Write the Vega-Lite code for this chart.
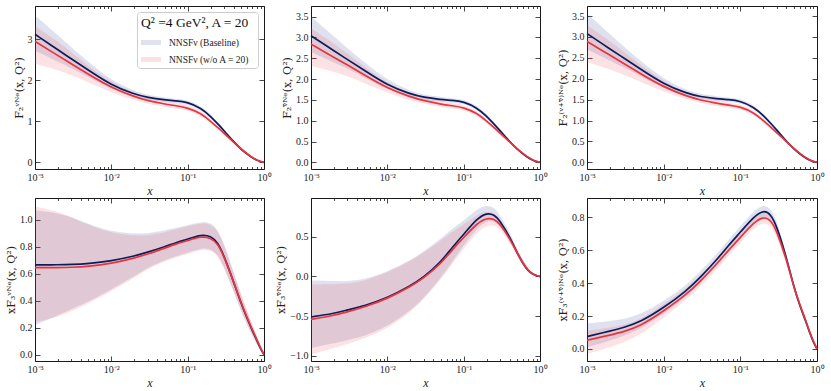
{
"$schema": "https://vega.github.io/schema/vega-lite/v6.json",
"padding": {"left": 5, "top": 5, "right": 0, "bottom": 0},
"background": "white",
"columns": 3,
"spacing": {"row": 29, "column": 47},
"bounds": "flush",
"resolve": {"scale": {"fill": "independent"}, "legend": {"fill": "independent"}},
"config": {
  "view": {"stroke": "#1a1a1a", "strokeWidth": 1},
  "axis": {"domain": false, "grid": false, "ticks": true, "tickColor": "#1a1a1a", "tickWidth": 0.8, "labelFont": "Liberation Serif", "labelFontSize": 10, "labelColor": "#222222", "titleFont": "DejaVu Serif", "titleFontSize": 11, "titleFontWeight": "normal", "titleColor": "#222222", "titlePadding": 3},
  "legend": {"labelFont": "Liberation Serif", "titleFont": "Liberation Serif"}
},
"data": {"values": [
{"p":1,"s":"b","x":0.001,"y":3.12,"lo":2.72,"hi":3.58},
{"p":1,"s":"b","x":0.002,"y":2.74,"lo":2.45,"hi":3.10},
{"p":1,"s":"b","x":0.003,"y":2.52,"lo":2.30,"hi":2.80},
{"p":1,"s":"b","x":0.005,"y":2.25,"lo":2.08,"hi":2.45},
{"p":1,"s":"b","x":0.01,"y":1.88,"lo":1.78,"hi":2.00},
{"p":1,"s":"b","x":0.02,"y":1.66,"lo":1.59,"hi":1.74},
{"p":1,"s":"b","x":0.03,"y":1.58,"lo":1.52,"hi":1.64},
{"p":1,"s":"b","x":0.05,"y":1.52,"lo":1.47,"hi":1.58},
{"p":1,"s":"b","x":0.07,"y":1.50,"lo":1.45,"hi":1.55},
{"p":1,"s":"b","x":0.1,"y":1.47,"lo":1.42,"hi":1.52},
{"p":1,"s":"b","x":0.15,"y":1.32,"lo":1.27,"hi":1.37},
{"p":1,"s":"b","x":0.2,"y":1.12,"lo":1.07,"hi":1.17},
{"p":1,"s":"b","x":0.25,"y":0.93,"lo":0.89,"hi":0.97},
{"p":1,"s":"b","x":0.3,"y":0.77,"lo":0.73,"hi":0.81},
{"p":1,"s":"b","x":0.4,"y":0.50,"lo":0.47,"hi":0.53},
{"p":1,"s":"b","x":0.5,"y":0.32,"lo":0.30,"hi":0.34},
{"p":1,"s":"b","x":0.6,"y":0.20,"lo":0.185,"hi":0.215},
{"p":1,"s":"b","x":0.7,"y":0.11,"lo":0.10,"hi":0.12},
{"p":1,"s":"b","x":0.8,"y":0.05,"lo":0.045,"hi":0.055},
{"p":1,"s":"b","x":0.9,"y":0.015,"lo":0.012,"hi":0.018},
{"p":1,"s":"b","x":1,"y":0,"lo":0,"hi":0},
{"p":1,"s":"r","x":0.001,"y":2.95,"lo":2.40,"hi":3.32},
{"p":1,"s":"r","x":0.002,"y":2.60,"lo":2.25,"hi":2.95},
{"p":1,"s":"r","x":0.003,"y":2.40,"lo":2.12,"hi":2.68},
{"p":1,"s":"r","x":0.005,"y":2.15,"lo":1.95,"hi":2.35},
{"p":1,"s":"r","x":0.01,"y":1.82,"lo":1.70,"hi":1.95},
{"p":1,"s":"r","x":0.02,"y":1.60,"lo":1.51,"hi":1.69},
{"p":1,"s":"r","x":0.03,"y":1.50,"lo":1.43,"hi":1.58},
{"p":1,"s":"r","x":0.05,"y":1.42,"lo":1.35,"hi":1.50},
{"p":1,"s":"r","x":0.07,"y":1.38,"lo":1.31,"hi":1.45},
{"p":1,"s":"r","x":0.1,"y":1.33,"lo":1.27,"hi":1.40},
{"p":1,"s":"r","x":0.15,"y":1.19,"lo":1.13,"hi":1.25},
{"p":1,"s":"r","x":0.2,"y":1.00,"lo":0.95,"hi":1.05},
{"p":1,"s":"r","x":0.25,"y":0.84,"lo":0.80,"hi":0.88},
{"p":1,"s":"r","x":0.3,"y":0.71,"lo":0.67,"hi":0.75},
{"p":1,"s":"r","x":0.4,"y":0.49,"lo":0.46,"hi":0.52},
{"p":1,"s":"r","x":0.5,"y":0.33,"lo":0.31,"hi":0.35},
{"p":1,"s":"r","x":0.6,"y":0.21,"lo":0.195,"hi":0.225},
{"p":1,"s":"r","x":0.7,"y":0.12,"lo":0.11,"hi":0.13},
{"p":1,"s":"r","x":0.8,"y":0.06,"lo":0.055,"hi":0.065},
{"p":1,"s":"r","x":0.9,"y":0.02,"lo":0.017,"hi":0.023},
{"p":1,"s":"r","x":1,"y":0,"lo":0,"hi":0},
{"p":2,"s":"b","x":0.001,"y":3.04,"lo":2.65,"hi":3.50},
{"p":2,"s":"b","x":0.002,"y":2.68,"lo":2.40,"hi":3.03},
{"p":2,"s":"b","x":0.003,"y":2.47,"lo":2.25,"hi":2.74},
{"p":2,"s":"b","x":0.005,"y":2.21,"lo":2.04,"hi":2.40},
{"p":2,"s":"b","x":0.01,"y":1.85,"lo":1.75,"hi":1.97},
{"p":2,"s":"b","x":0.02,"y":1.64,"lo":1.57,"hi":1.72},
{"p":2,"s":"b","x":0.03,"y":1.56,"lo":1.50,"hi":1.62},
{"p":2,"s":"b","x":0.05,"y":1.51,"lo":1.46,"hi":1.57},
{"p":2,"s":"b","x":0.07,"y":1.49,"lo":1.44,"hi":1.54},
{"p":2,"s":"b","x":0.1,"y":1.46,"lo":1.41,"hi":1.51},
{"p":2,"s":"b","x":0.15,"y":1.31,"lo":1.26,"hi":1.36},
{"p":2,"s":"b","x":0.2,"y":1.11,"lo":1.06,"hi":1.16},
{"p":2,"s":"b","x":0.25,"y":0.92,"lo":0.88,"hi":0.96},
{"p":2,"s":"b","x":0.3,"y":0.76,"lo":0.72,"hi":0.80},
{"p":2,"s":"b","x":0.4,"y":0.50,"lo":0.47,"hi":0.53},
{"p":2,"s":"b","x":0.5,"y":0.32,"lo":0.30,"hi":0.34},
{"p":2,"s":"b","x":0.6,"y":0.20,"lo":0.185,"hi":0.215},
{"p":2,"s":"b","x":0.7,"y":0.11,"lo":0.10,"hi":0.12},
{"p":2,"s":"b","x":0.8,"y":0.05,"lo":0.045,"hi":0.055},
{"p":2,"s":"b","x":0.9,"y":0.015,"lo":0.012,"hi":0.018},
{"p":2,"s":"b","x":1,"y":0,"lo":0,"hi":0},
{"p":2,"s":"r","x":0.001,"y":2.84,"lo":2.32,"hi":3.22},
{"p":2,"s":"r","x":0.002,"y":2.52,"lo":2.18,"hi":2.86},
{"p":2,"s":"r","x":0.003,"y":2.34,"lo":2.07,"hi":2.61},
{"p":2,"s":"r","x":0.005,"y":2.10,"lo":1.91,"hi":2.30},
{"p":2,"s":"r","x":0.01,"y":1.78,"lo":1.67,"hi":1.90},
{"p":2,"s":"r","x":0.02,"y":1.57,"lo":1.49,"hi":1.66},
{"p":2,"s":"r","x":0.03,"y":1.48,"lo":1.41,"hi":1.56},
{"p":2,"s":"r","x":0.05,"y":1.40,"lo":1.33,"hi":1.48},
{"p":2,"s":"r","x":0.07,"y":1.36,"lo":1.29,"hi":1.43},
{"p":2,"s":"r","x":0.1,"y":1.32,"lo":1.26,"hi":1.38},
{"p":2,"s":"r","x":0.15,"y":1.18,"lo":1.12,"hi":1.24},
{"p":2,"s":"r","x":0.2,"y":0.99,"lo":0.94,"hi":1.04},
{"p":2,"s":"r","x":0.25,"y":0.84,"lo":0.80,"hi":0.88},
{"p":2,"s":"r","x":0.3,"y":0.70,"lo":0.66,"hi":0.74},
{"p":2,"s":"r","x":0.4,"y":0.49,"lo":0.46,"hi":0.52},
{"p":2,"s":"r","x":0.5,"y":0.33,"lo":0.31,"hi":0.35},
{"p":2,"s":"r","x":0.6,"y":0.21,"lo":0.195,"hi":0.225},
{"p":2,"s":"r","x":0.7,"y":0.12,"lo":0.11,"hi":0.13},
{"p":2,"s":"r","x":0.8,"y":0.06,"lo":0.055,"hi":0.065},
{"p":2,"s":"r","x":0.9,"y":0.02,"lo":0.017,"hi":0.023},
{"p":2,"s":"r","x":1,"y":0,"lo":0,"hi":0},
{"p":3,"s":"b","x":0.001,"y":3.08,"lo":2.70,"hi":3.56},
{"p":3,"s":"b","x":0.002,"y":2.71,"lo":2.43,"hi":3.07},
{"p":3,"s":"b","x":0.003,"y":2.50,"lo":2.28,"hi":2.77},
{"p":3,"s":"b","x":0.005,"y":2.23,"lo":2.06,"hi":2.43},
{"p":3,"s":"b","x":0.01,"y":1.87,"lo":1.77,"hi":1.99},
{"p":3,"s":"b","x":0.02,"y":1.65,"lo":1.58,"hi":1.73},
{"p":3,"s":"b","x":0.03,"y":1.57,"lo":1.51,"hi":1.63},
{"p":3,"s":"b","x":0.05,"y":1.52,"lo":1.47,"hi":1.58},
{"p":3,"s":"b","x":0.07,"y":1.50,"lo":1.45,"hi":1.55},
{"p":3,"s":"b","x":0.1,"y":1.47,"lo":1.42,"hi":1.52},
{"p":3,"s":"b","x":0.15,"y":1.32,"lo":1.27,"hi":1.37},
{"p":3,"s":"b","x":0.2,"y":1.12,"lo":1.07,"hi":1.17},
{"p":3,"s":"b","x":0.25,"y":0.93,"lo":0.89,"hi":0.97},
{"p":3,"s":"b","x":0.3,"y":0.77,"lo":0.73,"hi":0.81},
{"p":3,"s":"b","x":0.4,"y":0.50,"lo":0.47,"hi":0.53},
{"p":3,"s":"b","x":0.5,"y":0.32,"lo":0.30,"hi":0.34},
{"p":3,"s":"b","x":0.6,"y":0.20,"lo":0.185,"hi":0.215},
{"p":3,"s":"b","x":0.7,"y":0.11,"lo":0.10,"hi":0.12},
{"p":3,"s":"b","x":0.8,"y":0.05,"lo":0.045,"hi":0.055},
{"p":3,"s":"b","x":0.9,"y":0.015,"lo":0.012,"hi":0.018},
{"p":3,"s":"b","x":1,"y":0,"lo":0,"hi":0},
{"p":3,"s":"r","x":0.001,"y":2.89,"lo":2.40,"hi":3.28},
{"p":3,"s":"r","x":0.002,"y":2.56,"lo":2.22,"hi":2.90},
{"p":3,"s":"r","x":0.003,"y":2.37,"lo":2.10,"hi":2.65},
{"p":3,"s":"r","x":0.005,"y":2.12,"lo":1.93,"hi":2.33},
{"p":3,"s":"r","x":0.01,"y":1.80,"lo":1.69,"hi":1.93},
{"p":3,"s":"r","x":0.02,"y":1.58,"lo":1.50,"hi":1.67},
{"p":3,"s":"r","x":0.03,"y":1.49,"lo":1.42,"hi":1.57},
{"p":3,"s":"r","x":0.05,"y":1.41,"lo":1.34,"hi":1.49},
{"p":3,"s":"r","x":0.07,"y":1.37,"lo":1.30,"hi":1.44},
{"p":3,"s":"r","x":0.1,"y":1.33,"lo":1.27,"hi":1.39},
{"p":3,"s":"r","x":0.15,"y":1.19,"lo":1.13,"hi":1.25},
{"p":3,"s":"r","x":0.2,"y":1.00,"lo":0.95,"hi":1.05},
{"p":3,"s":"r","x":0.25,"y":0.84,"lo":0.80,"hi":0.88},
{"p":3,"s":"r","x":0.3,"y":0.71,"lo":0.67,"hi":0.75},
{"p":3,"s":"r","x":0.4,"y":0.49,"lo":0.46,"hi":0.52},
{"p":3,"s":"r","x":0.5,"y":0.33,"lo":0.31,"hi":0.35},
{"p":3,"s":"r","x":0.6,"y":0.21,"lo":0.195,"hi":0.225},
{"p":3,"s":"r","x":0.7,"y":0.12,"lo":0.11,"hi":0.13},
{"p":3,"s":"r","x":0.8,"y":0.06,"lo":0.055,"hi":0.065},
{"p":3,"s":"r","x":0.9,"y":0.02,"lo":0.017,"hi":0.023},
{"p":3,"s":"r","x":1,"y":0,"lo":0,"hi":0},
{"p":4,"s":"b","x":0.001,"y":0.665,"lo":0.22,"hi":1.07},
{"p":4,"s":"b","x":0.002,"y":0.666,"lo":0.29,"hi":1.05},
{"p":4,"s":"b","x":0.003,"y":0.668,"lo":0.34,"hi":1.02},
{"p":4,"s":"b","x":0.005,"y":0.675,"lo":0.39,"hi":0.97},
{"p":4,"s":"b","x":0.01,"y":0.695,"lo":0.485,"hi":0.91},
{"p":4,"s":"b","x":0.02,"y":0.73,"lo":0.58,"hi":0.895},
{"p":4,"s":"b","x":0.03,"y":0.76,"lo":0.645,"hi":0.90},
{"p":4,"s":"b","x":0.05,"y":0.80,"lo":0.70,"hi":0.92},
{"p":4,"s":"b","x":0.07,"y":0.83,"lo":0.73,"hi":0.94},
{"p":4,"s":"b","x":0.1,"y":0.856,"lo":0.755,"hi":0.96},
{"p":4,"s":"b","x":0.15,"y":0.89,"lo":0.79,"hi":0.985},
{"p":4,"s":"b","x":0.2,"y":0.88,"lo":0.785,"hi":0.98},
{"p":4,"s":"b","x":0.25,"y":0.83,"lo":0.74,"hi":0.925},
{"p":4,"s":"b","x":0.3,"y":0.73,"lo":0.65,"hi":0.82},
{"p":4,"s":"b","x":0.4,"y":0.54,"lo":0.47,"hi":0.61},
{"p":4,"s":"b","x":0.5,"y":0.38,"lo":0.32,"hi":0.44},
{"p":4,"s":"b","x":0.6,"y":0.27,"lo":0.22,"hi":0.32},
{"p":4,"s":"b","x":0.7,"y":0.18,"lo":0.14,"hi":0.22},
{"p":4,"s":"b","x":0.8,"y":0.11,"lo":0.08,"hi":0.14},
{"p":4,"s":"b","x":0.9,"y":0.045,"lo":0.025,"hi":0.065},
{"p":4,"s":"b","x":1,"y":0,"lo":0,"hi":0},
{"p":4,"s":"r","x":0.001,"y":0.645,"lo":0.24,"hi":1.10},
{"p":4,"s":"r","x":0.002,"y":0.645,"lo":0.28,"hi":1.06},
{"p":4,"s":"r","x":0.003,"y":0.647,"lo":0.32,"hi":1.02},
{"p":4,"s":"r","x":0.005,"y":0.653,"lo":0.38,"hi":0.96},
{"p":4,"s":"r","x":0.01,"y":0.675,"lo":0.47,"hi":0.90},
{"p":4,"s":"r","x":0.02,"y":0.715,"lo":0.57,"hi":0.88},
{"p":4,"s":"r","x":0.03,"y":0.745,"lo":0.635,"hi":0.885},
{"p":4,"s":"r","x":0.05,"y":0.79,"lo":0.69,"hi":0.905},
{"p":4,"s":"r","x":0.07,"y":0.82,"lo":0.72,"hi":0.93},
{"p":4,"s":"r","x":0.1,"y":0.845,"lo":0.745,"hi":0.95},
{"p":4,"s":"r","x":0.15,"y":0.877,"lo":0.78,"hi":0.975},
{"p":4,"s":"r","x":0.2,"y":0.867,"lo":0.775,"hi":0.97},
{"p":4,"s":"r","x":0.25,"y":0.82,"lo":0.73,"hi":0.915},
{"p":4,"s":"r","x":0.3,"y":0.725,"lo":0.64,"hi":0.815},
{"p":4,"s":"r","x":0.4,"y":0.54,"lo":0.47,"hi":0.61},
{"p":4,"s":"r","x":0.5,"y":0.385,"lo":0.33,"hi":0.45},
{"p":4,"s":"r","x":0.6,"y":0.275,"lo":0.23,"hi":0.33},
{"p":4,"s":"r","x":0.7,"y":0.185,"lo":0.15,"hi":0.23},
{"p":4,"s":"r","x":0.8,"y":0.115,"lo":0.085,"hi":0.145},
{"p":4,"s":"r","x":0.9,"y":0.05,"lo":0.03,"hi":0.07},
{"p":4,"s":"r","x":1,"y":0,"lo":0,"hi":0},
{"p":5,"s":"b","x":0.001,"y":-0.51,"lo":-0.90,"hi":-0.05},
{"p":5,"s":"b","x":0.002,"y":-0.466,"lo":-0.84,"hi":-0.06},
{"p":5,"s":"b","x":0.003,"y":-0.42,"lo":-0.80,"hi":-0.06},
{"p":5,"s":"b","x":0.005,"y":-0.37,"lo":-0.75,"hi":-0.04},
{"p":5,"s":"b","x":0.01,"y":-0.27,"lo":-0.63,"hi":0.06},
{"p":5,"s":"b","x":0.02,"y":-0.12,"lo":-0.43,"hi":0.20},
{"p":5,"s":"b","x":0.03,"y":-0.01,"lo":-0.27,"hi":0.32},
{"p":5,"s":"b","x":0.05,"y":0.18,"lo":-0.02,"hi":0.47},
{"p":5,"s":"b","x":0.07,"y":0.36,"lo":0.18,"hi":0.60},
{"p":5,"s":"b","x":0.1,"y":0.53,"lo":0.39,"hi":0.70},
{"p":5,"s":"b","x":0.15,"y":0.73,"lo":0.61,"hi":0.85},
{"p":5,"s":"b","x":0.2,"y":0.80,"lo":0.70,"hi":0.90},
{"p":5,"s":"b","x":0.25,"y":0.78,"lo":0.70,"hi":0.87},
{"p":5,"s":"b","x":0.3,"y":0.70,"lo":0.64,"hi":0.77},
{"p":5,"s":"b","x":0.4,"y":0.50,"lo":0.45,"hi":0.56},
{"p":5,"s":"b","x":0.5,"y":0.30,"lo":0.26,"hi":0.35},
{"p":5,"s":"b","x":0.6,"y":0.16,"lo":0.13,"hi":0.20},
{"p":5,"s":"b","x":0.7,"y":0.07,"lo":0.05,"hi":0.10},
{"p":5,"s":"b","x":0.8,"y":0.03,"lo":0.015,"hi":0.045},
{"p":5,"s":"b","x":0.9,"y":0.01,"lo":0.0,"hi":0.02},
{"p":5,"s":"b","x":1,"y":0,"lo":0,"hi":0},
{"p":5,"s":"r","x":0.001,"y":-0.54,"lo":-0.98,"hi":-0.10},
{"p":5,"s":"r","x":0.002,"y":-0.49,"lo":-0.90,"hi":-0.10},
{"p":5,"s":"r","x":0.003,"y":-0.445,"lo":-0.85,"hi":-0.09},
{"p":5,"s":"r","x":0.005,"y":-0.385,"lo":-0.78,"hi":-0.06},
{"p":5,"s":"r","x":0.01,"y":-0.28,"lo":-0.66,"hi":0.05},
{"p":5,"s":"r","x":0.02,"y":-0.13,"lo":-0.45,"hi":0.19},
{"p":5,"s":"r","x":0.03,"y":-0.02,"lo":-0.29,"hi":0.30},
{"p":5,"s":"r","x":0.05,"y":0.16,"lo":-0.04,"hi":0.45},
{"p":5,"s":"r","x":0.07,"y":0.33,"lo":0.15,"hi":0.56},
{"p":5,"s":"r","x":0.1,"y":0.49,"lo":0.35,"hi":0.65},
{"p":5,"s":"r","x":0.15,"y":0.67,"lo":0.56,"hi":0.78},
{"p":5,"s":"r","x":0.2,"y":0.735,"lo":0.64,"hi":0.82},
{"p":5,"s":"r","x":0.25,"y":0.725,"lo":0.645,"hi":0.805},
{"p":5,"s":"r","x":0.3,"y":0.66,"lo":0.60,"hi":0.72},
{"p":5,"s":"r","x":0.4,"y":0.48,"lo":0.43,"hi":0.53},
{"p":5,"s":"r","x":0.5,"y":0.30,"lo":0.26,"hi":0.34},
{"p":5,"s":"r","x":0.6,"y":0.165,"lo":0.135,"hi":0.20},
{"p":5,"s":"r","x":0.7,"y":0.075,"lo":0.055,"hi":0.10},
{"p":5,"s":"r","x":0.8,"y":0.03,"lo":0.015,"hi":0.045},
{"p":5,"s":"r","x":0.9,"y":0.01,"lo":0.0,"hi":0.02},
{"p":5,"s":"r","x":1,"y":0,"lo":0,"hi":0},
{"p":6,"s":"b","x":0.001,"y":0.075,"lo":0.01,"hi":0.155},
{"p":6,"s":"b","x":0.002,"y":0.11,"lo":0.05,"hi":0.17},
{"p":6,"s":"b","x":0.003,"y":0.13,"lo":0.08,"hi":0.18},
{"p":6,"s":"b","x":0.005,"y":0.165,"lo":0.12,"hi":0.21},
{"p":6,"s":"b","x":0.01,"y":0.25,"lo":0.215,"hi":0.29},
{"p":6,"s":"b","x":0.02,"y":0.355,"lo":0.32,"hi":0.39},
{"p":6,"s":"b","x":0.03,"y":0.435,"lo":0.40,"hi":0.47},
{"p":6,"s":"b","x":0.05,"y":0.545,"lo":0.51,"hi":0.58},
{"p":6,"s":"b","x":0.07,"y":0.63,"lo":0.595,"hi":0.665},
{"p":6,"s":"b","x":0.1,"y":0.71,"lo":0.675,"hi":0.745},
{"p":6,"s":"b","x":0.15,"y":0.805,"lo":0.77,"hi":0.84},
{"p":6,"s":"b","x":0.2,"y":0.845,"lo":0.81,"hi":0.88},
{"p":6,"s":"b","x":0.25,"y":0.82,"lo":0.785,"hi":0.855},
{"p":6,"s":"b","x":0.3,"y":0.745,"lo":0.71,"hi":0.78},
{"p":6,"s":"b","x":0.4,"y":0.555,"lo":0.53,"hi":0.58},
{"p":6,"s":"b","x":0.5,"y":0.375,"lo":0.355,"hi":0.395},
{"p":6,"s":"b","x":0.6,"y":0.26,"lo":0.245,"hi":0.275},
{"p":6,"s":"b","x":0.7,"y":0.18,"lo":0.17,"hi":0.19},
{"p":6,"s":"b","x":0.8,"y":0.10,"lo":0.093,"hi":0.107},
{"p":6,"s":"b","x":0.9,"y":0.04,"lo":0.036,"hi":0.044},
{"p":6,"s":"b","x":1,"y":0,"lo":0,"hi":0},
{"p":6,"s":"r","x":0.001,"y":0.053,"lo":-0.03,"hi":0.11},
{"p":6,"s":"r","x":0.002,"y":0.085,"lo":0.01,"hi":0.13},
{"p":6,"s":"r","x":0.003,"y":0.105,"lo":0.04,"hi":0.145},
{"p":6,"s":"r","x":0.005,"y":0.14,"lo":0.085,"hi":0.18},
{"p":6,"s":"r","x":0.01,"y":0.23,"lo":0.19,"hi":0.27},
{"p":6,"s":"r","x":0.02,"y":0.333,"lo":0.30,"hi":0.37},
{"p":6,"s":"r","x":0.03,"y":0.41,"lo":0.375,"hi":0.445},
{"p":6,"s":"r","x":0.05,"y":0.52,"lo":0.485,"hi":0.555},
{"p":6,"s":"r","x":0.07,"y":0.60,"lo":0.565,"hi":0.635},
{"p":6,"s":"r","x":0.1,"y":0.678,"lo":0.645,"hi":0.71},
{"p":6,"s":"r","x":0.15,"y":0.77,"lo":0.735,"hi":0.805},
{"p":6,"s":"r","x":0.2,"y":0.805,"lo":0.77,"hi":0.84},
{"p":6,"s":"r","x":0.25,"y":0.785,"lo":0.75,"hi":0.82},
{"p":6,"s":"r","x":0.3,"y":0.715,"lo":0.68,"hi":0.75},
{"p":6,"s":"r","x":0.4,"y":0.545,"lo":0.515,"hi":0.575},
{"p":6,"s":"r","x":0.5,"y":0.375,"lo":0.355,"hi":0.395},
{"p":6,"s":"r","x":0.6,"y":0.265,"lo":0.25,"hi":0.28},
{"p":6,"s":"r","x":0.7,"y":0.185,"lo":0.175,"hi":0.195},
{"p":6,"s":"r","x":0.8,"y":0.105,"lo":0.098,"hi":0.112},
{"p":6,"s":"r","x":0.9,"y":0.045,"lo":0.04,"hi":0.05},
{"p":6,"s":"r","x":1,"y":0,"lo":0,"hi":0}
]},
"concat": [
{
 "width": 229, "height": 163,
 "transform": [{"filter": "datum.p == 1"}],
 "resolve": {"axis": {"x": "independent", "y": "independent"}},
 "layer": [
  {"transform": [{"filter": "datum.s == 'b'"}],
   "mark": {"type": "area", "interpolate": "basis", "fillOpacity": 0.15},
   "encoding": {
    "x": {"field": "x", "type": "quantitative", "scale": {"type": "log", "domain": [0.001, 1], "nice": false},
          "axis": {"orient": "bottom", "values": [0.001, 0.01, 0.1, 1], "labelExpr": "datum.value < 0.005 ? '10⁻³' : datum.value < 0.05 ? '10⁻²' : datum.value < 0.5 ? '10⁻¹' : '10⁰'", "labelFlush": false, "tickSize": -5, "labelPadding": 8, "title": "x", "titleFont": "Liberation Serif", "titleFontSize": 12, "titleFontStyle": "italic"}},
    "y": {"field": "lo", "type": "quantitative", "scale": {"domain": [-0.163, 3.81], "nice": false, "zero": false},
          "axis": {"orient": "left", "values": [0, 1, 2, 3], "format": "d", "tickSize": -5, "labelPadding": 8, "title": "F₂ᵛᴺᵉ(x, Q²)"}},
    "y2": {"field": "hi"},
    "fill": {"field": "s", "type": "nominal", "scale": {"domain": ["b", "r"], "range": ["#283c8c", "#e8343f"]},
      "legend": {"orient": "top-right", "offset": 6, "title": "Q² =4 GeV²,  A = 20", "titleFontSize": 13.5, "titleFontWeight": "normal", "titleColor": "#111111", "labelFontSize": 9.5, "labelColor": "#222222", "labelExpr": "datum.value == 'b' ? 'NNSFν (Baseline)' : 'NNSFν (w/o A = 20)'", "symbolType": "M-1,-0.25H1V0.25H-1Z", "symbolSize": 400, "symbolOpacity": 0.15, "symbolStrokeWidth": 0, "strokeColor": "#cccccc", "fillColor": "white", "cornerRadius": 3, "padding": 4, "rowPadding": 2, "titlePadding": 3, "labelOffset": 8}}
   }},
  {"transform": [{"filter": "datum.s == 'r'"}],
   "mark": {"type": "area", "interpolate": "basis", "fillOpacity": 0.14},
   "encoding": {
    "x": {"field": "x", "type": "quantitative", "axis": {"orient": "bottom", "values": [0.002,0.003,0.004,0.005,0.006,0.007,0.008,0.009,0.02,0.03,0.04,0.05,0.06,0.07,0.08,0.09,0.2,0.3,0.4,0.5,0.6,0.7,0.8,0.9], "labels": false, "tickSize": -2.5, "title": null}},
    "y": {"field": "lo", "type": "quantitative", "axis": {"orient": "right", "values": [0, 1, 2, 3], "labels": false, "tickSize": -5, "title": null}},
    "y2": {"field": "hi"},
    "fill": {"field": "s", "type": "nominal", "legend": null}
   }},
  {"transform": [{"filter": "datum.s == 'b'"}],
   "mark": {"type": "line", "interpolate": "basis", "color": "#0b1e5b", "strokeWidth": 1.7},
   "encoding": {
    "x": {"field": "x", "type": "quantitative", "axis": {"orient": "top", "values": [0.001, 0.01, 0.1, 1], "labels": false, "tickSize": -5, "title": null}},
    "y": {"field": "y", "type": "quantitative", "axis": null}
   }},
  {"transform": [{"filter": "datum.s == 'r'"}],
   "mark": {"type": "line", "interpolate": "basis", "color": "#e8343f", "strokeWidth": 1.7},
   "encoding": {
    "x": {"field": "x", "type": "quantitative", "axis": {"orient": "top", "values": [0.002,0.003,0.004,0.005,0.006,0.007,0.008,0.009,0.02,0.03,0.04,0.05,0.06,0.07,0.08,0.09,0.2,0.3,0.4,0.5,0.6,0.7,0.8,0.9], "labels": false, "tickSize": -2.5, "title": null}},
    "y": {"field": "y", "type": "quantitative", "axis": null}
   }}
 ]
},
{
 "width": 229, "height": 163,
 "transform": [{"filter": "datum.p == 2"}],
 "resolve": {"axis": {"x": "independent", "y": "independent"}},
 "layer": [
  {"transform": [{"filter": "datum.s == 'b'"}],
   "mark": {"type": "area", "interpolate": "basis", "color": "#283c8c", "fillOpacity": 0.15},
   "encoding": {
    "x": {"field": "x", "type": "quantitative", "scale": {"type": "log", "domain": [0.001, 1], "nice": false},
          "axis": {"orient": "bottom", "values": [0.001, 0.01, 0.1, 1], "labelExpr": "datum.value < 0.005 ? '10⁻³' : datum.value < 0.05 ? '10⁻²' : datum.value < 0.5 ? '10⁻¹' : '10⁰'", "labelFlush": false, "tickSize": -5, "labelPadding": 8, "title": "x", "titleFont": "Liberation Serif", "titleFontSize": 12, "titleFontStyle": "italic"}},
    "y": {"field": "lo", "type": "quantitative", "scale": {"domain": [-0.16, 3.756], "nice": false, "zero": false},
          "axis": {"orient": "left", "values": [0, 0.5, 1, 1.5, 2, 2.5, 3, 3.5], "format": ".1f", "tickSize": -5, "labelPadding": 8, "title": "F₂ᵛ̄ᴺᵉ(x, Q²)"}},
    "y2": {"field": "hi"}
   }},
  {"transform": [{"filter": "datum.s == 'r'"}],
   "mark": {"type": "area", "interpolate": "basis", "color": "#e8343f", "fillOpacity": 0.14},
   "encoding": {
    "x": {"field": "x", "type": "quantitative", "axis": {"orient": "bottom", "values": [0.002,0.003,0.004,0.005,0.006,0.007,0.008,0.009,0.02,0.03,0.04,0.05,0.06,0.07,0.08,0.09,0.2,0.3,0.4,0.5,0.6,0.7,0.8,0.9], "labels": false, "tickSize": -2.5, "title": null}},
    "y": {"field": "lo", "type": "quantitative", "axis": {"orient": "right", "values": [0, 0.5, 1, 1.5, 2, 2.5, 3, 3.5], "labels": false, "tickSize": -5, "title": null}},
    "y2": {"field": "hi"}
   }},
  {"transform": [{"filter": "datum.s == 'b'"}],
   "mark": {"type": "line", "interpolate": "basis", "color": "#0b1e5b", "strokeWidth": 1.7},
   "encoding": {
    "x": {"field": "x", "type": "quantitative", "axis": {"orient": "top", "values": [0.001, 0.01, 0.1, 1], "labels": false, "tickSize": -5, "title": null}},
    "y": {"field": "y", "type": "quantitative", "axis": null}
   }},
  {"transform": [{"filter": "datum.s == 'r'"}],
   "mark": {"type": "line", "interpolate": "basis", "color": "#e8343f", "strokeWidth": 1.7},
   "encoding": {
    "x": {"field": "x", "type": "quantitative", "axis": {"orient": "top", "values": [0.002,0.003,0.004,0.005,0.006,0.007,0.008,0.009,0.02,0.03,0.04,0.05,0.06,0.07,0.08,0.09,0.2,0.3,0.4,0.5,0.6,0.7,0.8,0.9], "labels": false, "tickSize": -2.5, "title": null}},
    "y": {"field": "y", "type": "quantitative", "axis": null}
   }}
 ]
},
{
 "width": 230, "height": 163,
 "transform": [{"filter": "datum.p == 3"}],
 "resolve": {"axis": {"x": "independent", "y": "independent"}},
 "layer": [
  {"transform": [{"filter": "datum.s == 'b'"}],
   "mark": {"type": "area", "interpolate": "basis", "color": "#283c8c", "fillOpacity": 0.15},
   "encoding": {
    "x": {"field": "x", "type": "quantitative", "scale": {"type": "log", "domain": [0.001, 1], "nice": false},
          "axis": {"orient": "bottom", "values": [0.001, 0.01, 0.1, 1], "labelExpr": "datum.value < 0.005 ? '10⁻³' : datum.value < 0.05 ? '10⁻²' : datum.value < 0.5 ? '10⁻¹' : '10⁰'", "labelFlush": false, "tickSize": -5, "labelPadding": 8, "title": "x", "titleFont": "Liberation Serif", "titleFontSize": 12, "titleFontStyle": "italic"}},
    "y": {"field": "lo", "type": "quantitative", "scale": {"domain": [-0.16, 3.74], "nice": false, "zero": false},
          "axis": {"orient": "left", "values": [0, 0.5, 1, 1.5, 2, 2.5, 3, 3.5], "format": ".1f", "tickSize": -5, "labelPadding": 8, "title": "F₂⁽ᵛ⁺ᵛ̄⁾ᴺᵉ(x, Q²)"}},
    "y2": {"field": "hi"}
   }},
  {"transform": [{"filter": "datum.s == 'r'"}],
   "mark": {"type": "area", "interpolate": "basis", "color": "#e8343f", "fillOpacity": 0.14},
   "encoding": {
    "x": {"field": "x", "type": "quantitative", "axis": {"orient": "bottom", "values": [0.002,0.003,0.004,0.005,0.006,0.007,0.008,0.009,0.02,0.03,0.04,0.05,0.06,0.07,0.08,0.09,0.2,0.3,0.4,0.5,0.6,0.7,0.8,0.9], "labels": false, "tickSize": -2.5, "title": null}},
    "y": {"field": "lo", "type": "quantitative", "axis": {"orient": "right", "values": [0, 0.5, 1, 1.5, 2, 2.5, 3, 3.5], "labels": false, "tickSize": -5, "title": null}},
    "y2": {"field": "hi"}
   }},
  {"transform": [{"filter": "datum.s == 'b'"}],
   "mark": {"type": "line", "interpolate": "basis", "color": "#0b1e5b", "strokeWidth": 1.7},
   "encoding": {
    "x": {"field": "x", "type": "quantitative", "axis": {"orient": "top", "values": [0.001, 0.01, 0.1, 1], "labels": false, "tickSize": -5, "title": null}},
    "y": {"field": "y", "type": "quantitative", "axis": null}
   }},
  {"transform": [{"filter": "datum.s == 'r'"}],
   "mark": {"type": "line", "interpolate": "basis", "color": "#e8343f", "strokeWidth": 1.7},
   "encoding": {
    "x": {"field": "x", "type": "quantitative", "axis": {"orient": "top", "values": [0.002,0.003,0.004,0.005,0.006,0.007,0.008,0.009,0.02,0.03,0.04,0.05,0.06,0.07,0.08,0.09,0.2,0.3,0.4,0.5,0.6,0.7,0.8,0.9], "labels": false, "tickSize": -2.5, "title": null}},
    "y": {"field": "y", "type": "quantitative", "axis": null}
   }}
 ]
},
{
 "width": 229, "height": 163,
 "transform": [{"filter": "datum.p == 4"}],
 "resolve": {"axis": {"x": "independent", "y": "independent"}},
 "layer": [
  {"transform": [{"filter": "datum.s == 'b'"}],
   "mark": {"type": "area", "interpolate": "basis", "color": "#283c8c", "fillOpacity": 0.15},
   "encoding": {
    "x": {"field": "x", "type": "quantitative", "scale": {"type": "log", "domain": [0.001, 1], "nice": false},
          "axis": {"orient": "bottom", "values": [0.001, 0.01, 0.1, 1], "labelExpr": "datum.value < 0.005 ? '10⁻³' : datum.value < 0.05 ? '10⁻²' : datum.value < 0.5 ? '10⁻¹' : '10⁰'", "labelFlush": false, "tickSize": -5, "labelPadding": 8, "title": "x", "titleFont": "Liberation Serif", "titleFontSize": 12, "titleFontStyle": "italic"}},
    "y": {"field": "lo", "type": "quantitative", "scale": {"domain": [-0.047, 1.161], "nice": false, "zero": false},
          "axis": {"orient": "left", "values": [0, 0.2, 0.4, 0.6, 0.8, 1.0], "format": ".1f", "tickSize": -5, "labelPadding": 8, "title": "xF₃ᵛᴺᵉ(x, Q²)"}},
    "y2": {"field": "hi"}
   }},
  {"transform": [{"filter": "datum.s == 'r'"}],
   "mark": {"type": "area", "interpolate": "basis", "color": "#e8343f", "fillOpacity": 0.14},
   "encoding": {
    "x": {"field": "x", "type": "quantitative", "axis": {"orient": "bottom", "values": [0.002,0.003,0.004,0.005,0.006,0.007,0.008,0.009,0.02,0.03,0.04,0.05,0.06,0.07,0.08,0.09,0.2,0.3,0.4,0.5,0.6,0.7,0.8,0.9], "labels": false, "tickSize": -2.5, "title": null}},
    "y": {"field": "lo", "type": "quantitative", "axis": {"orient": "right", "values": [0, 0.2, 0.4, 0.6, 0.8, 1.0], "labels": false, "tickSize": -5, "title": null}},
    "y2": {"field": "hi"}
   }},
  {"transform": [{"filter": "datum.s == 'b'"}],
   "mark": {"type": "line", "interpolate": "basis", "color": "#0b1e5b", "strokeWidth": 1.7},
   "encoding": {
    "x": {"field": "x", "type": "quantitative", "axis": {"orient": "top", "values": [0.001, 0.01, 0.1, 1], "labels": false, "tickSize": -5, "title": null}},
    "y": {"field": "y", "type": "quantitative", "axis": null}
   }},
  {"transform": [{"filter": "datum.s == 'r'"}],
   "mark": {"type": "line", "interpolate": "basis", "color": "#e8343f", "strokeWidth": 1.7},
   "encoding": {
    "x": {"field": "x", "type": "quantitative", "axis": {"orient": "top", "values": [0.002,0.003,0.004,0.005,0.006,0.007,0.008,0.009,0.02,0.03,0.04,0.05,0.06,0.07,0.08,0.09,0.2,0.3,0.4,0.5,0.6,0.7,0.8,0.9], "labels": false, "tickSize": -2.5, "title": null}},
    "y": {"field": "y", "type": "quantitative", "axis": null}
   }}
 ]
},
{
 "width": 229, "height": 163,
 "transform": [{"filter": "datum.p == 5"}],
 "resolve": {"axis": {"x": "independent", "y": "independent"}},
 "layer": [
  {"transform": [{"filter": "datum.s == 'b'"}],
   "mark": {"type": "area", "interpolate": "basis", "color": "#283c8c", "fillOpacity": 0.15},
   "encoding": {
    "x": {"field": "x", "type": "quantitative", "scale": {"type": "log", "domain": [0.001, 1], "nice": false},
          "axis": {"orient": "bottom", "values": [0.001, 0.01, 0.1, 1], "labelExpr": "datum.value < 0.005 ? '10⁻³' : datum.value < 0.05 ? '10⁻²' : datum.value < 0.5 ? '10⁻¹' : '10⁰'", "labelFlush": false, "tickSize": -5, "labelPadding": 8, "title": "x", "titleFont": "Liberation Serif", "titleFontSize": 12, "titleFontStyle": "italic"}},
    "y": {"field": "lo", "type": "quantitative", "scale": {"domain": [-1.063, 0.987], "nice": false, "zero": false},
          "axis": {"orient": "left", "values": [-1, -0.5, 0, 0.5], "format": ".1f", "tickSize": -5, "labelPadding": 8, "title": "xF₃ᵛ̄ᴺᵉ(x, Q²)"}},
    "y2": {"field": "hi"}
   }},
  {"transform": [{"filter": "datum.s == 'r'"}],
   "mark": {"type": "area", "interpolate": "basis", "color": "#e8343f", "fillOpacity": 0.14},
   "encoding": {
    "x": {"field": "x", "type": "quantitative", "axis": {"orient": "bottom", "values": [0.002,0.003,0.004,0.005,0.006,0.007,0.008,0.009,0.02,0.03,0.04,0.05,0.06,0.07,0.08,0.09,0.2,0.3,0.4,0.5,0.6,0.7,0.8,0.9], "labels": false, "tickSize": -2.5, "title": null}},
    "y": {"field": "lo", "type": "quantitative", "axis": {"orient": "right", "values": [-1, -0.5, 0, 0.5], "labels": false, "tickSize": -5, "title": null}},
    "y2": {"field": "hi"}
   }},
  {"transform": [{"filter": "datum.s == 'b'"}],
   "mark": {"type": "line", "interpolate": "basis", "color": "#0b1e5b", "strokeWidth": 1.7},
   "encoding": {
    "x": {"field": "x", "type": "quantitative", "axis": {"orient": "top", "values": [0.001, 0.01, 0.1, 1], "labels": false, "tickSize": -5, "title": null}},
    "y": {"field": "y", "type": "quantitative", "axis": null}
   }},
  {"transform": [{"filter": "datum.s == 'r'"}],
   "mark": {"type": "line", "interpolate": "basis", "color": "#e8343f", "strokeWidth": 1.7},
   "encoding": {
    "x": {"field": "x", "type": "quantitative", "axis": {"orient": "top", "values": [0.002,0.003,0.004,0.005,0.006,0.007,0.008,0.009,0.02,0.03,0.04,0.05,0.06,0.07,0.08,0.09,0.2,0.3,0.4,0.5,0.6,0.7,0.8,0.9], "labels": false, "tickSize": -2.5, "title": null}},
    "y": {"field": "y", "type": "quantitative", "axis": null}
   }}
 ]
},
{
 "width": 230, "height": 163,
 "transform": [{"filter": "datum.p == 6"}],
 "resolve": {"axis": {"x": "independent", "y": "independent"}},
 "layer": [
  {"transform": [{"filter": "datum.s == 'b'"}],
   "mark": {"type": "area", "interpolate": "basis", "color": "#283c8c", "fillOpacity": 0.15},
   "encoding": {
    "x": {"field": "x", "type": "quantitative", "scale": {"type": "log", "domain": [0.001, 1], "nice": false},
          "axis": {"orient": "bottom", "values": [0.001, 0.01, 0.1, 1], "labelExpr": "datum.value < 0.005 ? '10⁻³' : datum.value < 0.05 ? '10⁻²' : datum.value < 0.5 ? '10⁻¹' : '10⁰'", "labelFlush": false, "tickSize": -5, "labelPadding": 8, "title": "x", "titleFont": "Liberation Serif", "titleFontSize": 12, "titleFontStyle": "italic"}},
    "y": {"field": "lo", "type": "quantitative", "scale": {"domain": [-0.073, 0.918], "nice": false, "zero": false},
          "axis": {"orient": "left", "values": [0, 0.2, 0.4, 0.6, 0.8], "format": ".1f", "tickSize": -5, "labelPadding": 8, "title": "xF₃⁽ᵛ⁺ᵛ̄⁾ᴺᵉ(x, Q²)"}},
    "y2": {"field": "hi"}
   }},
  {"transform": [{"filter": "datum.s == 'r'"}],
   "mark": {"type": "area", "interpolate": "basis", "color": "#e8343f", "fillOpacity": 0.14},
   "encoding": {
    "x": {"field": "x", "type": "quantitative", "axis": {"orient": "bottom", "values": [0.002,0.003,0.004,0.005,0.006,0.007,0.008,0.009,0.02,0.03,0.04,0.05,0.06,0.07,0.08,0.09,0.2,0.3,0.4,0.5,0.6,0.7,0.8,0.9], "labels": false, "tickSize": -2.5, "title": null}},
    "y": {"field": "lo", "type": "quantitative", "axis": {"orient": "right", "values": [0, 0.2, 0.4, 0.6, 0.8], "labels": false, "tickSize": -5, "title": null}},
    "y2": {"field": "hi"}
   }},
  {"transform": [{"filter": "datum.s == 'b'"}],
   "mark": {"type": "line", "interpolate": "basis", "color": "#0b1e5b", "strokeWidth": 1.7},
   "encoding": {
    "x": {"field": "x", "type": "quantitative", "axis": {"orient": "top", "values": [0.001, 0.01, 0.1, 1], "labels": false, "tickSize": -5, "title": null}},
    "y": {"field": "y", "type": "quantitative", "axis": null}
   }},
  {"transform": [{"filter": "datum.s == 'r'"}],
   "mark": {"type": "line", "interpolate": "basis", "color": "#e8343f", "strokeWidth": 1.7},
   "encoding": {
    "x": {"field": "x", "type": "quantitative", "axis": {"orient": "top", "values": [0.002,0.003,0.004,0.005,0.006,0.007,0.008,0.009,0.02,0.03,0.04,0.05,0.06,0.07,0.08,0.09,0.2,0.3,0.4,0.5,0.6,0.7,0.8,0.9], "labels": false, "tickSize": -2.5, "title": null}},
    "y": {"field": "y", "type": "quantitative", "axis": null}
   }}
 ]
}
]
}
